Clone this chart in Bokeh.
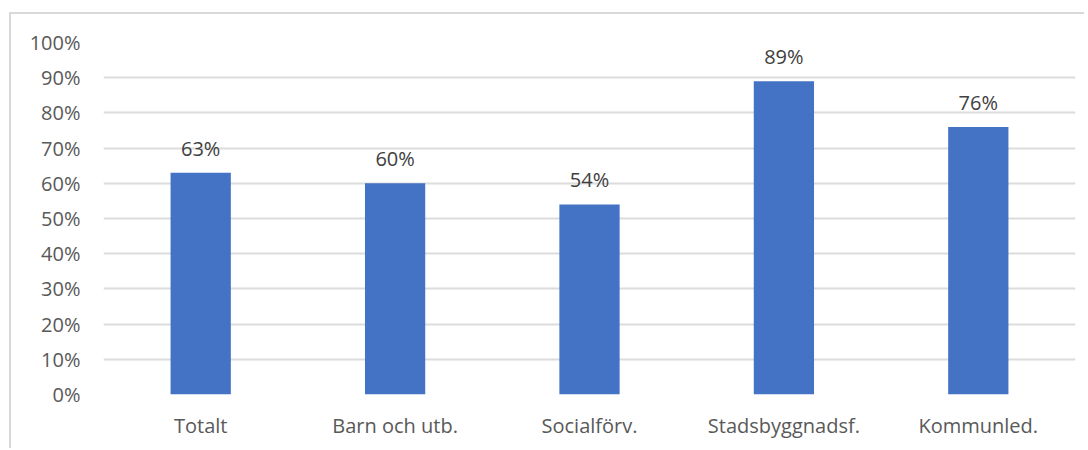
from bokeh.plotting import figure
from bokeh.models import ColumnDataSource, LabelSet, NumeralTickFormatter, FixedTicker
from bokeh.core.properties import value
from bokeh.embed import file_html
from bokeh.resources import INLINE

categories = ["Totalt", "Barn och utb.", "Socialförv.", "Stadsbyggnadsf.", "Kommunled."]
values = [0.63, 0.60, 0.54, 0.89, 0.76]
value_labels = ["63%", "60%", "54%", "89%", "76%"]
y_ticks = [0.0, 0.1, 0.2, 0.3, 0.4, 0.5, 0.6, 0.7, 0.8, 0.9, 1.0]

FONT = "Open Sans"
FSIZE = "20px"

source = ColumnDataSource(dict(cat=categories, val=values, lab=value_labels))

p = figure(
    x_range=categories, y_range=(0, 1),
    width=1075, height=436,
    output_backend="svg", toolbar_location=None,
    min_border_left=92, min_border_right=11, min_border_top=28, min_border_bottom=56,
)
p.styles = {"border-left": "2px solid #d9d9d9", "border-top": "2px solid #d9d9d9",
            "margin-left": "9px", "margin-top": "12px"}
p.outline_line_color = None
p.background_fill_color = "white"
p.border_fill_color = "white"
p.x_range.range_padding = 0

p.vbar(x="cat", top="val", width=0.31, source=source, color="#4472C4", line_color=None)

labels = LabelSet(x="cat", y="val", text="lab", source=source, text_align="center",
                  text_baseline="alphabetic", y_offset=17, text_font=value(FONT),
                  text_font_size=value(FSIZE), text_color="#404040")
p.add_layout(labels)

p.yaxis.ticker = FixedTicker(ticks=y_ticks)
p.yaxis.formatter = NumeralTickFormatter(format="0%")
p.ygrid.ticker = FixedTicker(ticks=y_ticks)
p.ygrid.grid_line_color = "#dcdcdc"
p.ygrid.grid_line_width = 2
p.xgrid.grid_line_color = None

for ax in (p.xaxis, p.yaxis):
    ax.axis_line_color = None
    ax.major_tick_line_color = None
    ax.minor_tick_line_color = None
    ax.major_tick_out = 0
    ax.major_tick_in = 0
    ax.minor_tick_out = 0
    ax.minor_tick_in = 0
    ax.major_label_text_font = FONT
    ax.major_label_text_font_size = FSIZE
    ax.major_label_text_color = "#595959"

p.yaxis.major_label_standoff = 23
p.xaxis.major_label_standoff = 17

open("out.html", "w").write(file_html(p, INLINE))
